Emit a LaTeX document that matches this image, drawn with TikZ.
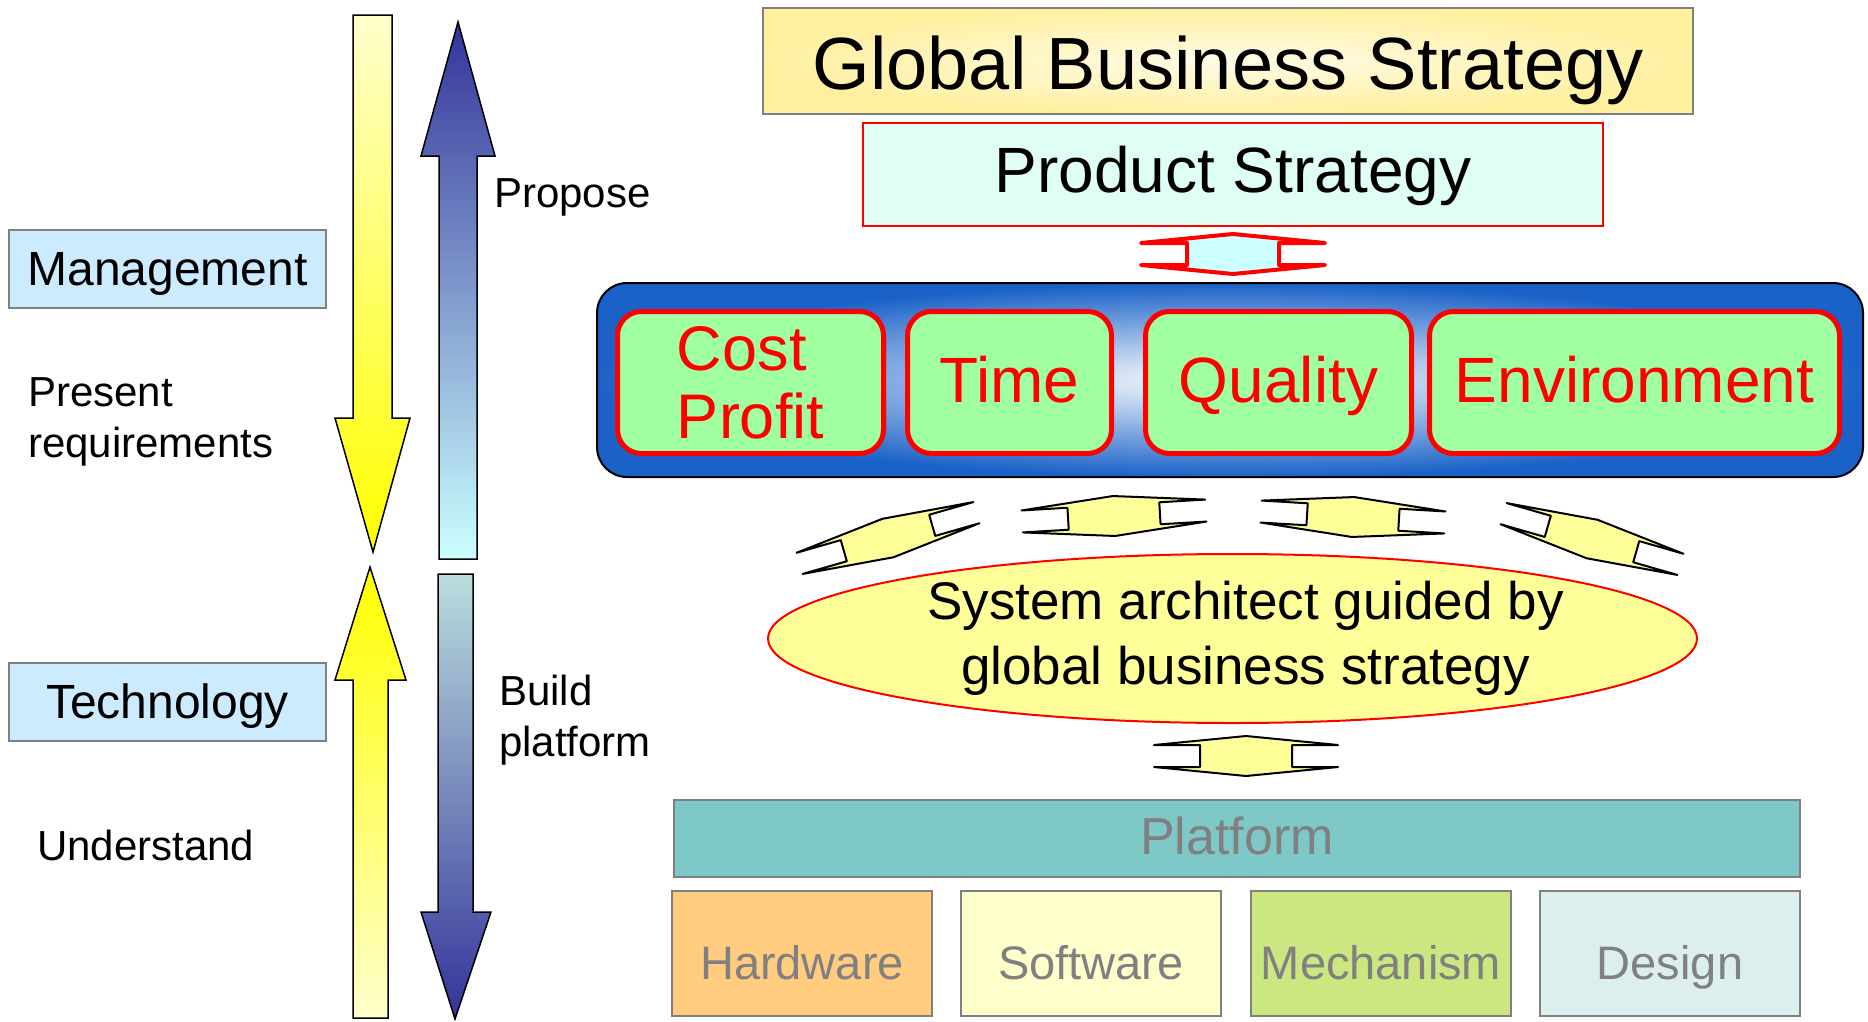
\documentclass[tikz,border=0pt]{standalone}
\usepackage{fontspec}
\setmainfont{Liberation Sans}
\usetikzlibrary{shapes.geometric}

\definecolor{gbsfill}{HTML}{FFF0A0}
\definecolor{psfill}{HTML}{DEFFF2}
\definecolor{panelblue}{HTML}{1A62C8}
\definecolor{goalfill}{HTML}{A0FFA0}
\definecolor{sysfill}{HTML}{FFFF99}
\definecolor{platfill}{HTML}{7EC8C8}
\definecolor{hwfill}{HTML}{FFCC80}
\definecolor{swfill}{HTML}{FFFFCC}
\definecolor{mechfill}{HTML}{CCE680}
\definecolor{desfill}{HTML}{DDEEEE}
\definecolor{rolefill}{HTML}{CCEBFF}
\definecolor{darkblue}{HTML}{333399}
\definecolor{palecyan}{HTML}{CCFFFF}
\definecolor{grayblue}{HTML}{BBDDDD}
\definecolor{paleyellow}{HTML}{FFFFCC}
\definecolor{labelgray}{HTML}{808080}

\tikzset{
    pics/dblarrow/.style={code={
        \draw[pic actions] (-92,-11) -- (0,-20) -- (92,-11) -- (46,-11) -- (46,11) -- (92,11)
            -- (0,20) -- (-92,11) -- (-46,11) -- (-46,-11) -- cycle;
    }}
}

\begin{document}
\begin{tikzpicture}[
                x=1pt, y=-1pt,
                box/.style={rectangle,draw=labelgray,line width=2pt,inner sep=0pt},
                role/.style={box,fill=rolefill,minimum width=317pt,minimum height=78pt,font=\fontsize{48}{56}\selectfont,text depth=0pt},
                part/.style={box,minimum width=260pt,minimum height=125pt,text=labelgray,font=\fontsize{47}{56}\selectfont,text height=51pt,text depth=0pt},
                goal/.style={rectangle,rounded corners=24pt,draw=red,line width=5pt,fill=goalfill,text=red,inner sep=0pt,minimum height=142pt,font=\fontsize{63}{68}\selectfont},
                word/.style={goal,font=\fontsize{64}{68}\selectfont,text height=47pt,text depth=8pt},
                note/.style={inner sep=0pt,align=left,font=\fontsize{42}{51}\selectfont},
                link/.style={draw=black,fill=sysfill,line width=2pt,line join=round},
                redlink/.style={draw=red,fill=palecyan,line width=4pt,line join=round},
                block/.style={draw=black,line width=1.5pt},
            ]
            \useasboundingbox (0,0) rectangle (1868,1021);

            % Define nodes
            \node[box, inner color=gbsfill!25, outer color=gbsfill, minimum width=930pt, minimum height=106pt, font=\fontsize{74}{80}\selectfont, text height=56pt, text depth=0pt] (gbs) at (1228,61) {Global Business Strategy};
            \node[box, draw=red, fill=psfill, minimum width=740pt, minimum height=103pt, font=\fontsize{64}{68}\selectfont, text height=47pt, text depth=11pt] (ps) at (1233,174.5) {Product Strategy};
            \node[draw=black, line width=2pt, rounded corners=30pt, inner color=white, outer color=panelblue, minimum width=1266pt, minimum height=194pt] (panel) at (1230,380) {};
            \node[goal, minimum width=266pt, align=left] (cost) at (750.5,382.5) {Cost\\Profit};
            \node[word, minimum width=204pt] (time) at (1009.5,382.5) {Time};
            \node[word, minimum width=266pt] (quality) at (1278.5,382.5) {Quality};
            \node[word, minimum width=410pt] (env) at (1634.5,382.5) {Environment};
            \node[ellipse, draw=red, line width=2pt, fill=sysfill, minimum width=929pt, minimum height=169pt, inner sep=0pt] (sys) at (1232.5,638.5) {};
            \node[align=center, inner sep=0pt, font=\fontsize{53}{65}\selectfont] (syslbl) at ([xshift=13pt]sys.center) {System architect guided by\\global business strategy};
            \node[box, fill=platfill, text=labelgray, minimum width=1126pt, minimum height=77pt, font=\fontsize{52}{60}\selectfont, text height=31pt, text depth=0pt] (plat) at (1237,838.5) {Platform};
            \node[part, fill=hwfill] (hw) at (802,953.5) {Hardware};
            \node[part, fill=swfill] (sw) at (1091,953.5) {Software};
            \node[part, fill=mechfill] (mech) at (1381,953.5) {Mechanism};
            \node[part, fill=desfill] (des) at (1670,953.5) {Design};

            % Left side
            \node[role] (mgmt) at (167.5,269) {Management};
            \node[role] (tech) at (167.5,701.5) {Technology};
            \node[note, anchor=west] (req) at (28,422) {Present\\requirements};
            \node[note, anchor=base west] (und) at (37,860) {Understand};
            \node[note, anchor=base west] (prop) at (494,207) {Propose};
            \node[note, anchor=west] (build) at (499,720) {Build\\platform};

            % Draw block arrows
            \shade[block, top color=paleyellow, bottom color=yellow] (353,15) -- (392,15) -- (392,418) -- (410,418) -- (373,552) -- (335,418) -- (353,418) -- cycle;
            \shade[block, top color=yellow, bottom color=paleyellow] (370,567) -- (406,680) -- (388,680) -- (388,1018) -- (353,1018) -- (353,680) -- (335,680) -- cycle;
            \shade[block, top color=darkblue, bottom color=palecyan] (458,22) -- (495,156) -- (477,156) -- (477,559) -- (439,559) -- (439,156) -- (421,156) -- cycle;
            \shade[block, top color=grayblue, bottom color=darkblue] (438,574) -- (473,574) -- (473,912) -- (491,912) -- (455,1019) -- (421,912) -- (438,912) -- cycle;

            % Draw connections
            \pic[redlink] at (1233,254) {dblarrow};
            \pic[link, rotate=16] at (888,538) {dblarrow};
            \pic[link, rotate=3.4] at (1114,516) {dblarrow};
            \pic[link, rotate=-3.4] at (1353,517) {dblarrow};
            \pic[link, rotate=-16] at (1592,539) {dblarrow};
            \pic[link] at (1246,756) {dblarrow};

            \end{tikzpicture}
\end{document}
